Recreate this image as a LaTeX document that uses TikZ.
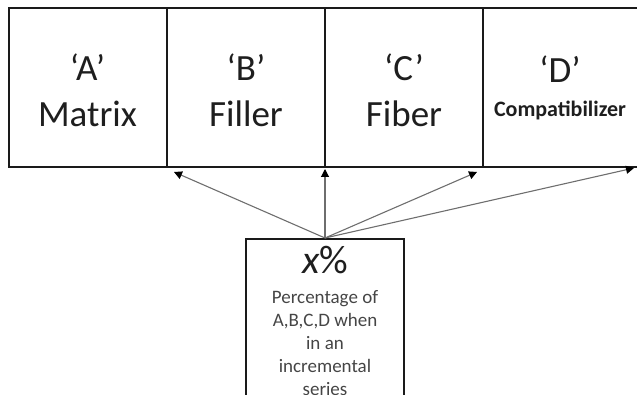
\documentclass[tikz,border=0pt]{standalone}
\usepackage{fontspec}
\setmainfont{Carlito}
\usetikzlibrary{arrows.meta}
\definecolor{boxline}{HTML}{1A1A1A}
\definecolor{arrowline}{HTML}{6E6E6E}
\definecolor{txt}{HTML}{1E1E1E}
\definecolor{smalltxt}{HTML}{454545}
\tikzset{
  compbox/.style={draw=boxline, line width=2pt, rectangle, minimum width=158pt, minimum height=159pt, inner sep=0pt},
  bigtxt/.style={text=txt, anchor=base, inner sep=0pt, font=\fontsize{37}{44}\selectfont},
  boldtxt/.style={text=txt, anchor=base, inner sep=0pt, font=\fontsize{22}{26}\selectfont\bfseries},
  conn/.style={draw=arrowline, line width=1.1pt, -{Triangle[length=8pt,width=8pt,fill=black,color=black]}},
}
\begin{document}
\begin{tikzpicture}[x=1pt,y=-1pt]
\useasboundingbox (0,0) rectangle (637,395);
\clip (0,0) rectangle (637,395);
% top boxes
\node[compbox] (A) at (87.5,87.5) {};
\node[compbox] (B) at (246,87.5) {};
\node[compbox] (C) at (404,87.5) {};
\node[compbox] (D) at (562,87.5) {};
% texts
\node[bigtxt] (Aq) at (87.5,81) {‘A’};
\node[bigtxt] (An) at (87.5,127) {Matrix};
\node[bigtxt] (Bq) at (246,81) {‘B’};
\node[bigtxt] (Bn) at (246,127) {Filler};
\node[bigtxt] (Cq) at (404,81) {‘C’};
\node[bigtxt] (Cn) at (404,127) {Fiber};
\node[bigtxt] (Dq) at (560,83) {‘D’};
\node[boldtxt] (Dn) at (560,117) {Compatibilizer};
% bottom box
\node[draw=boxline, line width=2pt, rectangle, minimum width=158pt, minimum height=190pt, inner sep=0pt, anchor=north] (P) at (325,238) {};
\node[text=txt, anchor=base, inner sep=0pt, font=\fontsize{40}{44}\selectfont\itshape] (Px) at (325,273) {x\upshape\%};
\node[text=smalltxt, anchor=north, align=center, inner sep=0pt, font=\fontsize{19}{23}\selectfont] (Pt) at (325,290) {Percentage of\\A,B,C,D when\\in an\\incremental\\series};
% arrow tips
\coordinate (tA) at (174,172);
\coordinate (tB) at (325,169);
\coordinate (tC) at (477,172);
\coordinate (tD) at (634,168);
\draw[conn] (P.north) -- (tA);
\draw[conn] (P.north) -- (tB);
\draw[conn] (P.north) -- (tC);
\draw[conn] (P.north) -- (tD);
\end{tikzpicture}
\end{document}
